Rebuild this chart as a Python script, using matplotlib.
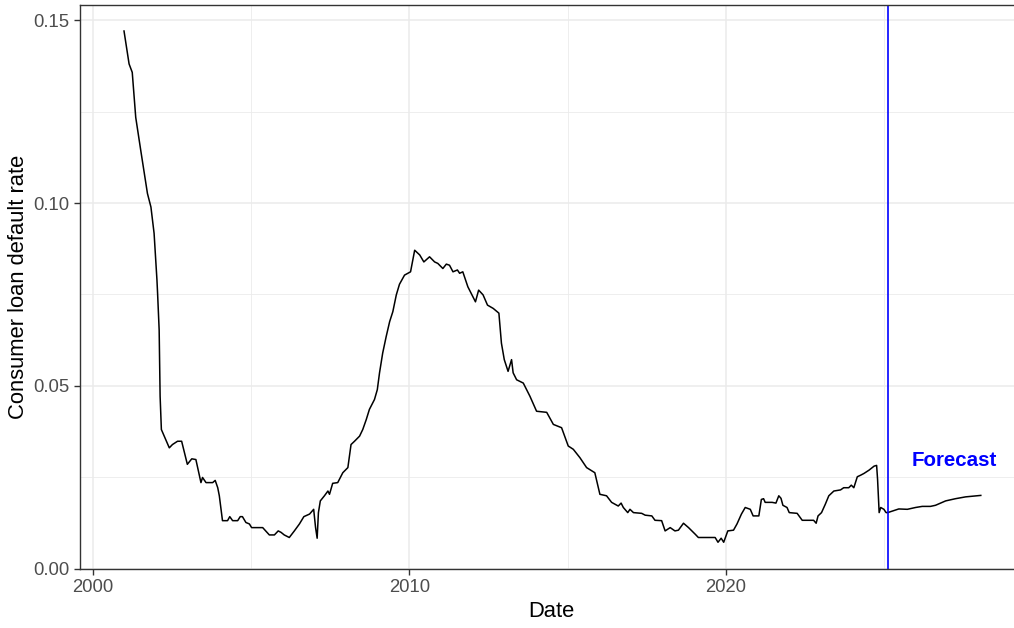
import matplotlib.pyplot as plt

plt.rcParams['font.family'] = ['Liberation Sans', 'DejaVu Sans']

# historical series (decimal year, default rate)
hist_year = [2000.99, 2001.15, 2001.25, 2001.36, 2001.52, 2001.73, 2001.84, 2001.94, 2002.03, 2002.05,
             2002.10, 2002.13, 2002.17, 2002.26, 2002.42, 2002.52, 2002.68, 2002.81, 2002.99, 2003.13,
             2003.26, 2003.42, 2003.47, 2003.58, 2003.79, 2003.87, 2003.95, 2004.00, 2004.10, 2004.26,
             2004.33, 2004.42, 2004.58, 2004.66, 2004.73, 2004.84, 2004.95, 2005.02, 2005.37, 2005.58,
             2005.74, 2005.86, 2005.95, 2006.05, 2006.21, 2006.37, 2006.53, 2006.67, 2006.85, 2006.98,
             2007.04, 2007.09, 2007.13, 2007.19, 2007.32, 2007.43, 2007.48, 2007.58, 2007.74, 2007.90,
             2008.06, 2008.16, 2008.27, 2008.43, 2008.53, 2008.64, 2008.74, 2008.90, 2008.99, 2009.06,
             2009.16, 2009.27, 2009.38, 2009.48, 2009.59, 2009.69, 2009.85, 2010.04, 2010.17, 2010.33,
             2010.46, 2010.64, 2010.80, 2010.90, 2011.06, 2011.17, 2011.27, 2011.38, 2011.52, 2011.59,
             2011.69, 2011.85, 2012.09, 2012.19, 2012.33, 2012.47, 2012.65, 2012.83, 2012.91, 2013.00,
             2013.12, 2013.23, 2013.28, 2013.39, 2013.60, 2013.81, 2014.02, 2014.34, 2014.55, 2014.81,
             2015.02, 2015.18, 2015.39, 2015.60, 2015.86, 2016.02, 2016.23, 2016.39, 2016.60, 2016.69,
             2016.76, 2016.90, 2016.97, 2017.08, 2017.34, 2017.45, 2017.66, 2017.76, 2017.97, 2018.08,
             2018.24, 2018.39, 2018.50, 2018.66, 2018.82, 2019.03, 2019.13, 2019.66, 2019.75, 2019.85,
             2019.93, 2020.06, 2020.24, 2020.35, 2020.49, 2020.61, 2020.77, 2020.86, 2021.04, 2021.12,
             2021.19, 2021.24, 2021.46, 2021.58, 2021.67, 2021.74, 2021.80, 2021.93, 2022.00, 2022.25,
             2022.41, 2022.77, 2022.85, 2022.91, 2023.02, 2023.14, 2023.25, 2023.41, 2023.62, 2023.72,
             2023.88, 2023.96, 2024.04, 2024.15, 2024.25, 2024.36, 2024.52, 2024.68, 2024.76, 2024.79,
             2024.84, 2024.89, 2024.99, 2025.06, 2025.11]
hist_rate = [0.1470, 0.1380, 0.1357, 0.1234, 0.1143, 0.1026, 0.0989, 0.0917, 0.0790, 0.0754,
             0.0653, 0.0472, 0.0381, 0.0363, 0.0331, 0.0340, 0.0349, 0.0349, 0.0286, 0.0301,
             0.0299, 0.0236, 0.0250, 0.0236, 0.0236, 0.0242, 0.0222, 0.0200, 0.0132, 0.0132,
             0.0143, 0.0132, 0.0132, 0.0143, 0.0143, 0.0127, 0.0123, 0.0113, 0.0113, 0.0093,
             0.0093, 0.0104, 0.0100, 0.0093, 0.0086, 0.0104, 0.0123, 0.0143, 0.0150, 0.0163,
             0.0113, 0.0084, 0.0154, 0.0186, 0.0200, 0.0213, 0.0204, 0.0234, 0.0236, 0.0263,
             0.0277, 0.0340, 0.0349, 0.0363, 0.0381, 0.0408, 0.0436, 0.0463, 0.0490, 0.0536,
             0.0590, 0.0635, 0.0676, 0.0703, 0.0749, 0.0778, 0.0803, 0.0812, 0.0871, 0.0858,
             0.0839, 0.0853, 0.0839, 0.0835, 0.0821, 0.0833, 0.0830, 0.0812, 0.0817, 0.0808,
             0.0812, 0.0771, 0.0730, 0.0762, 0.0749, 0.0721, 0.0712, 0.0699, 0.0617, 0.0572,
             0.0540, 0.0572, 0.0536, 0.0517, 0.0508, 0.0472, 0.0431, 0.0428, 0.0395, 0.0386,
             0.0336, 0.0327, 0.0304, 0.0277, 0.0263, 0.0204, 0.0200, 0.0182, 0.0172, 0.0180,
             0.0168, 0.0154, 0.0163, 0.0154, 0.0152, 0.0147, 0.0145, 0.0133, 0.0132, 0.0104,
             0.0113, 0.0104, 0.0106, 0.0125, 0.0113, 0.0095, 0.0086, 0.0086, 0.0073, 0.0084,
             0.0073, 0.0104, 0.0106, 0.0123, 0.0150, 0.0168, 0.0163, 0.0145, 0.0145, 0.0190,
             0.0192, 0.0182, 0.0182, 0.0180, 0.0200, 0.0193, 0.0174, 0.0168, 0.0154, 0.0152,
             0.0133, 0.0133, 0.0125, 0.0145, 0.0154, 0.0177, 0.0200, 0.0213, 0.0216, 0.0222,
             0.0222, 0.0229, 0.0222, 0.0252, 0.0256, 0.0261, 0.0270, 0.0281, 0.0283, 0.0245,
             0.0154, 0.0168, 0.0163, 0.0154, 0.0154]

# forecast part
fc_year = [2025.46, 2025.73, 2025.99, 2026.20, 2026.46, 2026.62, 2026.94, 2027.25, 2027.57, 2028.05]
fc_rate = [0.0164, 0.0163, 0.0168, 0.0171, 0.0171, 0.0174, 0.0186, 0.0192, 0.0197, 0.0201]

forecast_start = 2025.11
label_year = 2027.2
label_rate = 0.0296

x_all = hist_year + fc_year
y_all = hist_rate + fc_rate

fig = plt.figure(figsize=(10.14, 6.28), dpi=100)
ax = fig.add_axes([0.0789, 0.094, 0.9305, 0.898])

ax.plot(x_all, y_all, color='black', lw=1.1)
ax.axvline(forecast_start, color='#0000FF', lw=1.2)
ax.text(label_year, label_rate, 'Forecast', color='#0000FF', fontsize=14.8,
        fontweight='bold', ha='center', va='center')

ax.set_xlim(1999.6, 2029.4)
ax.set_ylim(0.0, 0.1541)
ax.set_xticks([2000, 2010, 2020])
ax.set_xticks([2005, 2015, 2025], minor=True)
ax.set_yticks([0.0, 0.05, 0.10, 0.15])
ax.set_yticklabels(['0.00', '0.05', '0.10', '0.15'])
ax.set_yticks([0.025, 0.075, 0.125], minor=True)

ax.grid(True, which='major', color='#EBEBEB', lw=1.1)
ax.grid(True, which='minor', color='#EBEBEB', lw=0.6)
ax.set_axisbelow(True)
ax.tick_params(which='major', length=4.5, width=1, color='#333333', labelcolor='#4D4D4D',
               labelsize=13.3, pad=3)
ax.tick_params(which='minor', length=0)
for s in ax.spines.values():
    s.set_color('#333333')
    s.set_linewidth(1.0)

ax.set_xlabel('Date', fontsize=15.8)
ax.set_ylabel('Consumer loan default rate', fontsize=15.8)
ax.xaxis.set_label_coords(0.5, -0.0754)
ax.xaxis.label.set_va('center')
ax.yaxis.set_label_coords(-0.0652, 0.5)
ax.yaxis.label.set_va('center')

plt.savefig('out.png', dpi=100)
